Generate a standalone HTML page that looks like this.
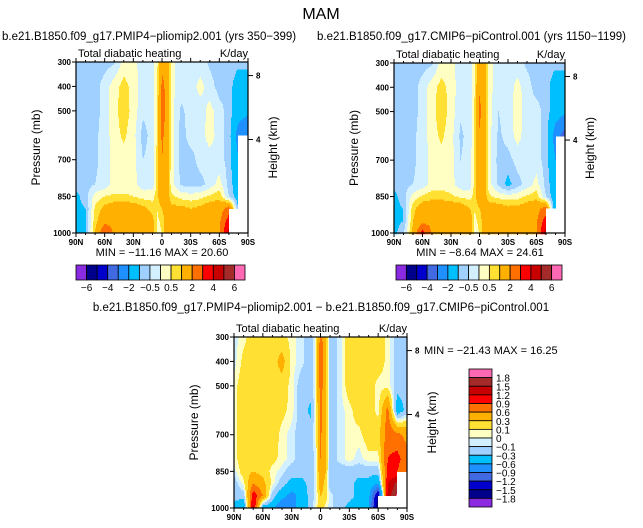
<!DOCTYPE html>
<html><head><meta charset="utf-8"><style>
body{margin:0;background:#fff;}
svg{display:block;font-family:"Liberation Sans",sans-serif;}
</style></head><body>
<svg id="s" width="643" height="528" viewBox="0 0 643 528"></svg>
<script>
const lats=[90,80,70,60,50,40,30,20,10,5,0,-5,-10,-20,-30,-40,-50,-60,-70,-80,-90];
const levs=[300,400,500,600,700,800,850,900,950,1000];
const colors=["#8a2be2","#00008b","#0000cd","#4169e1","#1e90ff","#00bfff","#a0d0ff","#d2f0ff","#ffffc4","#ffe033","#ffb000","#ff7000","#ff0000","#c80000","#a52a2a","#ff69b4"];
const boundsFull=[-6,-5,-4,-3,-2,-1,-0.5,0,0.5,1,2,3,4,5,6];
const boundsDiff=[-1.8,-1.5,-1.2,-0.9,-0.6,-0.3,-0.1,0,0.1,0.3,0.6,0.9,1.2,1.5,1.8];
const fullLabels=["-6","-4","-2","-0.5","0.5","2","4","6"];
const diffLabels=["1.8","1.5","1.2","0.9","0.6","0.3","0.1","0","-0.1","-0.3","-0.6","-0.9","-1.2","-1.5","-1.8"];
const pliomip=[
[-.7,-.7,-.7,-.7,-.6,.2,.2,-.3,-.3,.4,1.8,1.8,.2,-.3,-.3,-.3,-.6,-.7,-.7,-.8,-.8],
[-.7,-.7,-.7,-.3,.3,.7,.3,-.3,-.3,.5,2.2,1.8,.2,-.3,-.3,.2,-.3,-.7,-.7,-1.5,-1.5],
[-.7,-.7,-.7,-.3,.3,.8,.3,-.4,-.3,.6,2.4,1.8,.2,-.6,-.3,-.3,.2,-.3,-.7,-1.5,-1.8],
[-.7,-.7,-.6,-.3,.3,.6,.2,-.7,-.3,.6,2.2,1.6,.2,-.7,-.3,-.3,.3,-.3,-.7,-2.5,-3],
[-.7,-.7,-.6,-.3,.2,.3,.2,-.5,-.3,.7,2,1.6,.2,-.7,-.7,-.3,-.3,-.3,-.7,-2,null],
[-.7,-.7,-.5,-.3,.2,.2,.2,-.3,-.3,.7,2,1.5,.2,-.6,-.7,-.7,-.3,.2,-.7,-1.5,null],
[-1.2,-.7,.2,.5,.6,.6,.5,.3,.3,.8,1.8,1.5,.6,.3,.2,.3,.6,.8,-.5,-1.5,null],
[-1.2,-1,.6,1.2,1.5,1.5,1.5,1.2,.8,.5,1,1.4,1.2,1.2,1,1.2,1.5,1.5,2.5,-1.2,null],
[-1.2,-1,.8,1.6,1.8,1.8,1.6,1.5,1.2,.4,.6,1.5,1.5,1.5,1.5,1.5,1.5,1.8,3.5,null,null],
[-1.2,-1,1,3,1.8,1.8,1.6,1.5,1.2,.4,.5,1.5,1.5,1.5,1.5,1.5,1.5,1.8,4.5,null,null]];
const picontrol=[
[-.7,-.7,-.7,-.7,-.6,.2,.2,-.3,-.3,.4,1.8,1.6,.2,-.3,-.3,-.3,-.6,-.7,-.7,-.8,-.8],
[-.7,-.7,-.7,-.3,.3,.7,.3,-.3,-.3,.5,1.9,1.6,.2,-.3,-.3,.2,-.3,-.7,-.7,-1.5,-1.5],
[-.7,-.7,-.7,-.3,.3,.8,.3,-.4,-.3,.6,2.2,1.6,.2,-.5,-.3,.3,-.3,-.3,-.7,-1.5,-1.8],
[-.7,-.7,-.6,-.3,.3,.6,.2,-.6,-.3,.6,1.9,1.6,.2,-.6,-.3,.2,-.3,-.3,-.7,-2.5,-3.5],
[-.7,-.7,-.6,-.3,.2,.3,.2,-.5,-.3,.7,1.8,1.5,.2,-.7,-.7,-.3,-.3,-.3,-.7,-2,null],
[-.8,-.7,-.5,-.3,.2,.2,.2,-.3,-.3,.7,1.8,1.4,.2,-.6,-1.2,-.7,-.3,.2,-.7,-1.5,null],
[-1.2,-.7,.2,.6,.8,.8,.6,.4,.3,.8,1.7,1.4,.6,.3,.2,.3,.6,.8,-.5,-1.5,null],
[-1.2,-1,.8,1.5,1.6,1.6,1.6,1.5,1,.5,1,1.4,1.5,1.5,1.2,1.2,1.5,1.6,2.5,-2,null],
[-1.2,-1,1,1.6,1.8,1.8,1.8,1.6,1.5,.4,.6,1.5,1.6,1.6,1.5,1.5,1.6,1.9,3.5,null,null],
[-1.2,-.6,1.2,3.5,1.8,1.8,1.8,1.6,1.5,.4,.5,1.5,1.6,1.6,1.5,1.5,1.6,1.9,4.5,null,null]];
const difference=[
[-.05,.05,.2,.2,.2,.15,.05,-.05,-.2,.05,.7,.4,-.2,-.05,.2,.2,.2,.2,.05,-.2,-.2],
[-.05,.15,.2,.2,.2,.4,.05,-.05,-.2,.05,.9,.4,-.2,-.05,.2,.2,.2,.2,.05,-.2,-.2],
[.05,.2,.2,.2,.2,.2,.05,-.2,-.2,.05,.75,.4,-.2,-.05,.2,.2,.2,.05,.05,-.2,-.2],
[.05,.2,.2,.2,.2,.15,.05,-.2,-.35,.05,.7,.4,-.2,-.05,.05,.2,.2,.05,.7,-.5,-.2],
[.05,.2,.2,.2,.2,.05,-.05,-.2,-.2,.05,.65,.4,-.2,-.05,.05,.05,.2,.2,.8,.7,.5],
[.05,.2,.2,.2,.15,.05,-.05,-.2,-.2,-.05,.6,.4,-.2,-.05,.05,-.05,.05,.05,.9,1,.7],
[-.05,.2,.3,.2,.05,-.05,-.2,-.2,-.2,-.05,.55,.35,-.2,-.2,-.2,-.2,-.2,-.2,1,.9,.6],
[-.2,.05,.6,.4,.05,-.2,-.4,-.4,-.2,-.05,.5,.2,-.2,-.2,-.2,-.4,-.4,-.6,1.2,1.6,null],
[-.2,-.2,1.1,.6,-.2,-.5,-.7,-.5,-.2,-.05,.3,.2,-.05,-.2,-.2,-.4,-.5,-1.6,1.3,1.9,null],
[-.4,-.6,1.3,-.5,-.5,-.9,-.6,-.6,-.2,.05,.2,.05,-.05,-.2,-.4,-.5,-.6,-1.8,null,null,null]];
const latTicks=[90,60,30,0,-30,-60,-90];
const latTickLabels=["90N","60N","30N","0","30S","60S","90S"];
const presTicks=[300,400,500,700,850,1000];

const NS="http://www.w3.org/2000/svg";
const S=document.getElementById('s');
function el(tag,attrs,parent,txt){const e=document.createElementNS(NS,tag);for(const k in attrs)e.setAttribute(k,attrs[k]);if(txt!==undefined)e.textContent=txt;(parent||S).appendChild(e);return e;}
function colorOf(v,b){if(v===null)return null;let i=0;while(i<b.length&&v>=b[i])i++;return colors[i];}
function interp(arr,x){for(let i=0;i<arr.length-1;i++){const a=arr[i],c=arr[i+1];if((x-a)*(x-c)<=0){return [i,(x-a)/(c-a)];}}return [arr.length-2,1];}
function val(grid,lat,p){const [i,fx]=interp(lats,lat);const [j,fy]=interp(levs,p);
 const a=grid[j][i],b=grid[j][i+1],c=grid[j+1][i],d=grid[j+1][i+1];
 if(a===null||b===null||c===null||d===null)return null;
 return a*(1-fx)*(1-fy)+b*fx*(1-fy)+c*(1-fx)*fy+d*fx*fy;}

function panel(name,x0,y0,w,h,grid,bounds){
 const g=el('g',{},S);
 
 
 const xs=l=>x0+(90-l)/180*w, ys=p=>y0+(p-300)/700*h;
 const step=1.5;
 for(let y=0;y<h;y+=step){
  const p=300+(y+step/2)/h*700;
  let runStart=0,runCol=null;
  for(let x=0;x<=w;x+=1){
   let col=null;
   if(x<w){const lat=90-(x+0.5)/w*180;col=colorOf(val(grid,lat,p),bounds)||'#fff';}
   if(x===0){runCol=col;runStart=0;continue;}
   if(col!==runCol){
    const r=el('rect',{x:x0+runStart,y:y0+y,width:x-runStart+0.3,height:step+0.3,fill:runCol},g);
    
    
    runStart=x;runCol=col;}
  }
 }
 el('rect',{x:x0,y:y0,width:w,height:h,fill:'none',stroke:'#000','stroke-width':1.2},g);
 for(let l=90;l>=-90;l-=10){const x=xs(l);const maj=l%30===0;
  el('line',{x1:x,x2:x,y1:y0+h,y2:y0+h+(maj?4:2),stroke:'#000'},g);
  el('line',{x1:x,x2:x,y1:y0,y2:y0-(maj?4:2),stroke:'#000'},g);}
 latTicks.forEach((l,k)=>{const t=el('text',{x:xs(l),y:y0+h+12,'font-size':8,'text-anchor':'middle','font-weight':'bold'},g,latTickLabels[k]);
  });
 presTicks.forEach(p=>{const y=ys(p);el('line',{x1:x0-4,x2:x0,y1:y,y2:y,stroke:'#000'},g);
  const t=el('text',{x:x0-5,y:y+3,'font-size':8,'text-anchor':'end','font-weight':'bold'},g,String(p));
  });
 [[8,0.0794],[4,0.4532]].forEach(([km,f])=>{const y=y0+f*h;el('line',{x1:x0+w,x2:x0+w+5,y1:y,y2:y,stroke:'#000'},g);
  el('text',{x:x0+w+8,y:y+3,'font-size':8,'font-weight':'bold'},g,String(km));});
 const t1=el('text',{x:x0+2,y:y0-5,'font-size':11},g,'Total diabatic heating');
 
 el('text',{x:x0+w,y:y0-5,'font-size':11,'text-anchor':'end'},g,'K/day');
 const yl=el('text',{transform:`translate(${x0-36},${y0+h/2}) rotate(-90)`,'font-size':12,'text-anchor':'middle'},g,'Pressure (mb)');
 
 const yr=el('text',{transform:`translate(${x0+w+29},${y0+h/2}) rotate(-90)`,'font-size':12,'text-anchor':'middle'},g,'Height (km)');
 
}
function hbar(name,x0,y0,w,h){
 const g=el('g',{},S);
 
 const bw=w/16;
 colors.forEach((c,i)=>{const r=el('rect',{x:x0+i*bw,y:y0,width:bw,height:h,fill:c,stroke:'#000','stroke-width':0.8},g);
  });
 fullLabels.forEach((s,k)=>{el('text',{x:x0+(2*k+1)*bw,y:y0+h+11,'font-size':10,'text-anchor':'middle'},g,s.replace('-','−'));});
}
function vbar(name,x0,y0,w,h){
 const g=el('g',{},S);
 
 const bh=h/16;
 colors.slice().reverse().forEach((c,i)=>{const r=el('rect',{x:x0,y:y0+i*bh,width:w,height:bh,fill:c,stroke:'#000','stroke-width':0.8},g);
  });
 diffLabels.forEach((s,k)=>{el('text',{x:x0+w+4,y:y0+(k+1)*bh+4,'font-size':10},g,s.replace('-','−'));});
}
const mt=el('text',{x:321,y:19,'font-size':16,'text-anchor':'middle'},S,'MAM');

el('text',{x:2,y:40,'font-size':11.5},S,'b.e21.B1850.f09_g17.PMIP4−pliomip2.001 (yrs 350−399)');
el('text',{x:317,y:40,'font-size':11.5},S,'b.e21.B1850.f09_g17.CMIP6−piControl.001 (yrs 1150−1199)');
el('text',{x:321,y:311,'font-size':11.5,'text-anchor':'middle'},S,'b.e21.B1850.f09_g17.PMIP4−pliomip2.001 − b.e21.B1850.f09_g17.CMIP6−piControl.001');
panel('pliomip-panel',76,62,172,171,pliomip,boundsFull);
panel('picontrol-panel',394,63,171,170,picontrol,boundsFull);
panel('difference-panel',234,337,173,171,difference,boundsDiff);
el('text',{x:162,y:256,'font-size':11,'text-anchor':'middle'},S,'MIN = −11.16   MAX =  20.60');
el('text',{x:480,y:256,'font-size':11,'text-anchor':'middle'},S,'MIN =  −8.64   MAX =  24.61');
el('text',{x:424,y:354,'font-size':11},S,'MIN = −21.43   MAX =  16.25');
hbar('colorbar-left',76,265,169,15);
hbar('colorbar-right',396,265,166,15);
vbar('colorbar-diff',469,369,23,138);
</script>
</body></html>
